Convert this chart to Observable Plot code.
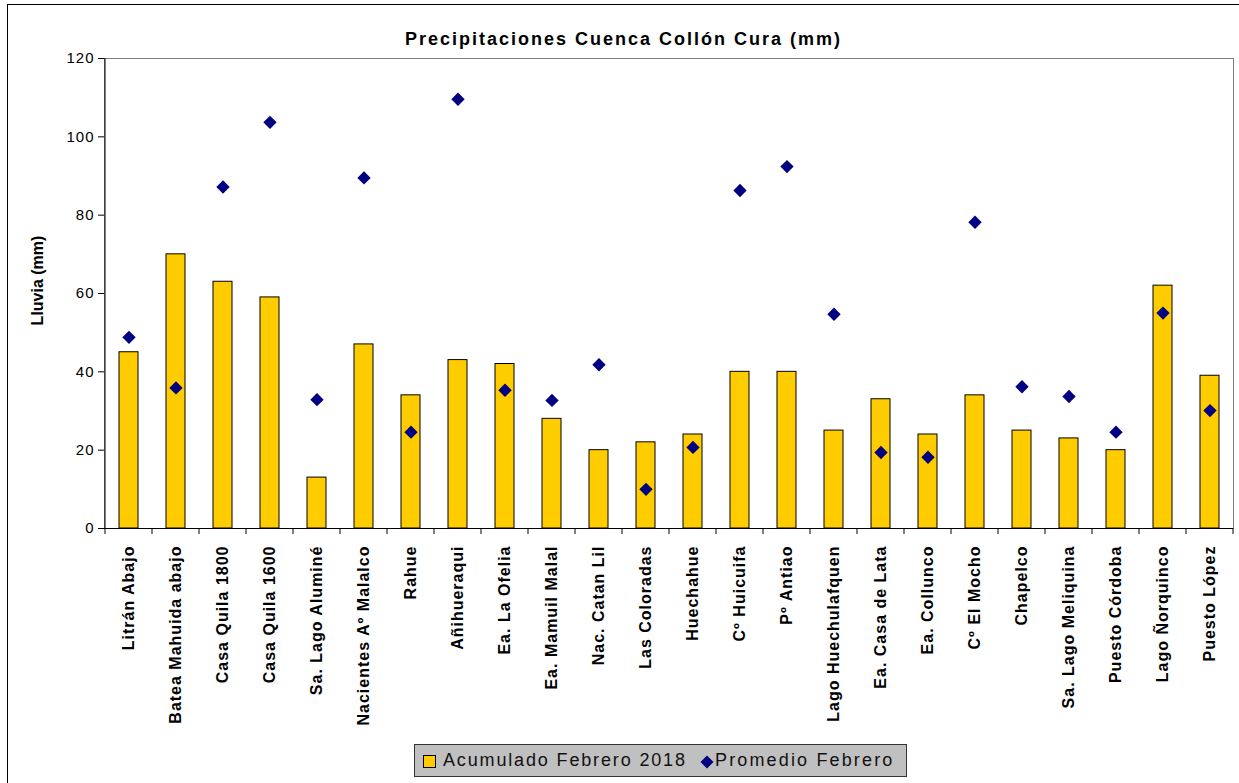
<!DOCTYPE html>
<html>
<head>
<meta charset="utf-8">
<script src="https://cdn.jsdelivr.net/npm/d3@7"></script>
<script src="https://cdn.jsdelivr.net/npm/@observablehq/plot@0.6"></script>
<style>
  html, body { margin: 0; padding: 0; background: white; }
  #wrap { position: relative; width: 1239px; height: 783px; overflow: hidden; font-family: "Liberation Sans", Arial, sans-serif; }
  #border { position: absolute; left: 7px; top: 4px; width: 1400px; height: 900px; border: 1px solid #000; pointer-events: none; z-index: 5; }
  #title { position: absolute; left: 405px; top: 30px; font-size: 18px; line-height: 18px; font-weight: bold; letter-spacing: 2px; white-space: nowrap; color: #000; z-index: 4; }
  #legend { position: absolute; left: 414px; top: 744px; width: 493px; height: 33px; background: #c0c0c0; border: 1px solid #333; box-sizing: border-box; z-index: 4; }
  #legend .sw { position: absolute; left: 8px; top: 10px; width: 13px; height: 13px; background: #FFCC00; border: 1px solid #000; box-sizing: border-box; }
  #legend .t { position: absolute; top: 6px; font-size: 18px; line-height: 18px; white-space: nowrap; color: #111; }
  #legend svg { position: absolute; left: 285px; top: 10px; }
  #chart { position: absolute; left: 0; top: 0; }
  g[aria-label="x-axis tick label"] text { letter-spacing: 1px; }
  g[aria-label="y-axis tick label"] text { letter-spacing: 1px; }
</style>
</head>
<body>
<div id="wrap">
  <div id="chart"></div>
  <div id="title">Precipitaciones Cuenca Collón Cura (mm)</div>
  <div id="legend">
    <div class="sw"></div>
    <div class="t" style="left:28px; letter-spacing:1.85px">Acumulado Febrero 2018</div>
    <svg width="14" height="14" viewBox="0 0 14 14"><path d="M7 0.5 L13.5 7 L7 13.5 L0.5 7 Z" fill="#000080"/></svg>
    <div class="t" style="left:300px; letter-spacing:2.15px">Promedio Febrero</div>
  </div>
  <div id="border"></div>
</div>
<script>
const stations = [
  "Litrán Abajo", "Batea Mahuida abajo", "Casa Quila 1800", "Casa Quila 1600",
  "Sa. Lago Aluminé", "Nacientes Aº Malalco", "Rahue", "Añihueraqui",
  "Ea. La Ofelia", "Ea. Mamuil Malal", "Nac. Catan Lil", "Las Coloradas",
  "Huechahue", "Cº Huicuifa", "Pº Antiao", "Lago Huechulafquen",
  "Ea. Casa de Lata", "Ea. Collunco", "Cº El Mocho", "Chapelco",
  "Sa. Lago Meliquina", "Puesto Córdoba", "Lago Ñorquinco", "Puesto López"
];
const acumulado2018 = [45, 70, 63, 59, 13, 47, 34, 43, 42, 28, 20, 22, 24, 40, 40, 25, 33, 24, 34, 25, 23, 20, 62, 39];
const promedioFebrero = [48.8, 35.9, 87.2, 103.7, 32.9, 89.5, 24.6, 109.6, 35.3, 32.7, 41.8, 10.0, 20.7, 86.3, 92.4, 54.7, 19.4, 18.2, 78.2, 36.2, 33.7, 24.6, 55.0, 30.1];
const yTicks = [0, 20, 40, 60, 80, 100, 120];

const data = stations.map((s, i) => ({station: s, acum: acumulado2018[i], prom: promedioFebrero[i]}));

// category boundary ticks + left axis line, positioned from the scales
function boundaryTicks(index, scales) {
  const x = scales.x, y = scales.y;
  const step = x.step ? x.step() : scales.scales.x.step;
  const bw = x.bandwidth ? x.bandwidth() : scales.scales.x.bandwidth;
  const g = d3.create("svg:g");
  const y0 = y(0), yTop = y(yTicks[yTicks.length - 1]);
  const bounds = stations.map(s => x(s) + bw / 2 - step / 2);
  bounds.push(x(stations[stations.length - 1]) + bw / 2 + step / 2);
  g.selectAll("line.b").data(bounds).join("line")
    .attr("x1", d => d).attr("x2", d => d)
    .attr("y1", y0).attr("y2", y0 + 6)
    .attr("stroke", "#000").attr("stroke-width", 1);
  g.append("line")
    .attr("x1", bounds[0]).attr("x2", bounds[0])
    .attr("y1", yTop).attr("y2", y0 + 0.5)
    .attr("stroke", "#000").attr("stroke-width", 1);
  return g.node();
}

const chart = Plot.plot({
  width: 1239,
  height: 783,
  marginLeft: 104,
  marginRight: 6,
  marginTop: 58,
  marginBottom: 255,
  style: {fontFamily: "'Liberation Sans', Arial, sans-serif", background: "white", color: "#000"},
  x: {type: "band", domain: stations, paddingInner: 0.6, paddingOuter: 0.3, label: null},
  y: {domain: [0, 120], label: null},
  marks: [
    Plot.frame({stroke: "#808080"}),
    Plot.barY(data, {x: "station", y: "acum", fill: "#FFCC00", stroke: "#000", strokeWidth: 1}),
    Plot.dot(data, {x: "station", y: "prom", symbol: "diamond2", r: 6, fill: "#000080", stroke: "none"}),
    Plot.ruleY([0], {stroke: "#000"}),
    Plot.axisY(yTicks, {anchor: "left", tickSize: 6, tickPadding: 4, fontSize: 15, label: null}),
    Plot.axisX({anchor: "bottom", tickRotate: -90, tickSize: 0, tickPadding: 17, fontSize: 16, fontWeight: "bold", label: null}),
    Plot.text(["Lluvia (mm)"], {frameAnchor: "left", textAnchor: "middle", dx: -67, dy: -13, rotate: -90, fontSize: 16, fontWeight: "bold"}),
    boundaryTicks
  ]
});
document.getElementById("chart").appendChild(chart);
</script>
</body>
</html>
